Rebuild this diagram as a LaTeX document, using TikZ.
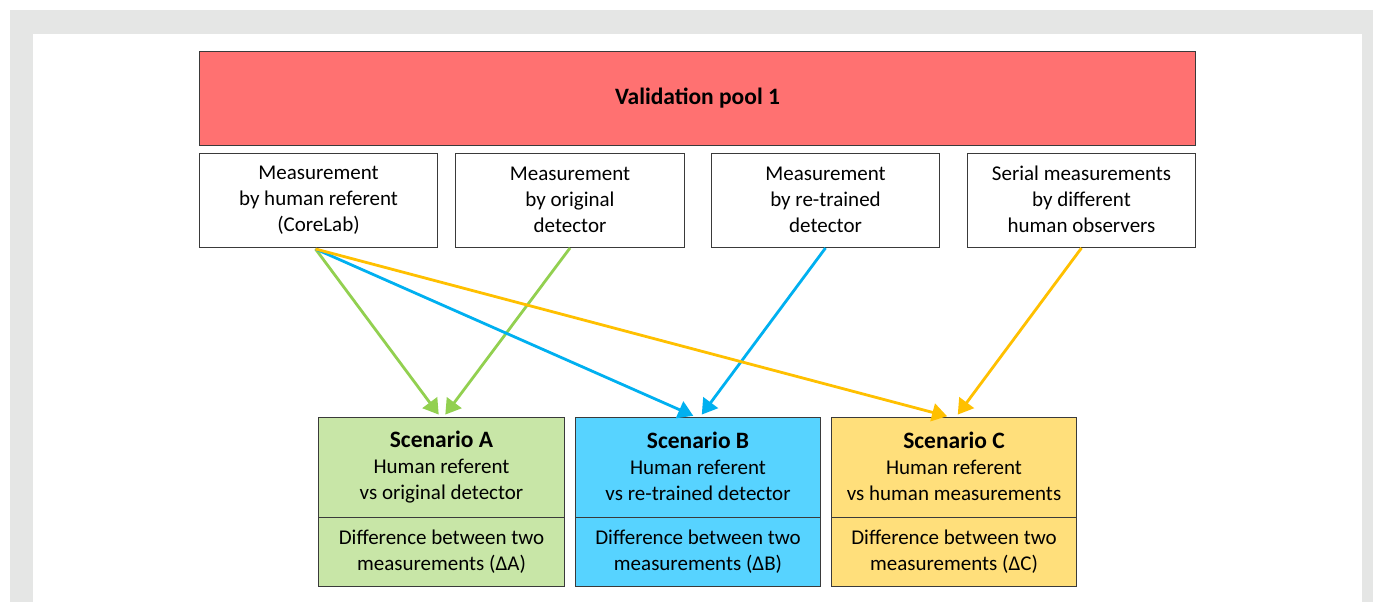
\documentclass[tikz,border=0pt]{standalone}
\usepackage{fontspec}
\setmainfont{Carlito}
\usetikzlibrary{arrows.meta,calc}
\definecolor{frame}{HTML}{E5E6E5}
\definecolor{poolred}{HTML}{FF7171}
\definecolor{gfill}{HTML}{C8E6A7}
\definecolor{bfill}{HTML}{57D3FF}
\definecolor{yfill}{HTML}{FFDF7B}
\definecolor{garrow}{HTML}{92D050}
\definecolor{barrow}{HTML}{00B0F0}
\definecolor{yarrow}{HTML}{FFC000}
\definecolor{edge}{HTML}{3A3A3A}
\tikzset{
  plainbox/.style={draw=edge, line width=1pt, anchor=north west, inner sep=0pt, align=center,
    font=\fontsize{21}{26}\selectfont},
  box/.style={plainbox, execute at begin node={\rule{0pt}{22pt}}, execute at end node={\rule[-2pt]{0pt}{2pt}}},
  conn/.style={line width=2.8pt, -{Triangle[length=15pt,width=18pt]}, shorten >=3pt},
}
\begin{document}
\begin{tikzpicture}[x=1pt,y=-1pt]
\useasboundingbox (0,0) rectangle (1373,602);
\fill[frame] (10,10) rectangle (1373,602);
\fill[white] (33,34) rectangle (1362,602);
% pool
\node[plainbox, fill=poolred, minimum width=996pt, minimum height=94pt, font=\fontsize{23.5}{26}\selectfont\bfseries] (pool) at (199,51) {Validation pool 1};
% measurement boxes
\node[box, minimum width=238pt, minimum height=94pt] (m1) at (199,153) {Measurement\\by human referent\\(CoreLab)};
\node[box, minimum width=229pt, minimum height=94pt] (m2) at (455,153) {Measurement\\by original\\detector};
\node[box, minimum width=228pt, minimum height=94pt] (m3) at (711,153) {Measurement\\by re-trained\\detector};
\node[box, minimum width=228pt, minimum height=94pt] (m4) at (967,153) {Serial measurements\\by different\\human observers};
% scenarios
\node[box, fill=gfill, minimum width=246pt, minimum height=100pt] (sA) at (318,417) {{\fontsize{23.5}{26}\selectfont\bfseries Scenario A}\\Human referent\\vs original detector};
\node[box, fill=gfill, minimum width=246pt, minimum height=69pt] (dA) at (318,517) {Difference between two\\measurements (ΔA)};
\node[box, fill=bfill, minimum width=245pt, minimum height=100pt] (sB) at (575,417) {{\fontsize{23.5}{26}\selectfont\bfseries Scenario B}\\Human referent\\vs re-trained detector};
\node[box, fill=bfill, minimum width=245pt, minimum height=69pt] (dB) at (575,517) {Difference between two\\measurements (ΔB)};
\node[box, fill=yfill, minimum width=245pt, minimum height=100pt] (sC) at (831,417) {{\fontsize{23.5}{26}\selectfont\bfseries Scenario C}\\Human referent\\vs human measurements};
\node[box, fill=yfill, minimum width=245pt, minimum height=69pt] (dC) at (831,517) {Difference between two\\measurements (ΔC)};
% connectors
\coordinate (s1) at ($(m1.south)+(-3,1)$);
\draw[conn, draw=garrow, fill=garrow] (s1) -- ($(sA.north)+(-1,0)$);
\draw[conn, draw=garrow, fill=garrow] (m2.south) -- ($(sA.north)+(2,0)$);
\draw[conn, draw=barrow, fill=barrow] (s1) -- ($(sB.north)+(-2,0)$);
\draw[conn, draw=barrow, fill=barrow] (m3.south) -- ($(sB.north)+(2,0)$);
\draw[conn, draw=yarrow, fill=yarrow] (s1) -- ($(sC.north)+(-4,0)$);
\draw[conn, draw=yarrow, fill=yarrow] (m4.south) -- ($(sC.north)+(2,0)$);
\end{tikzpicture}
\end{document}
